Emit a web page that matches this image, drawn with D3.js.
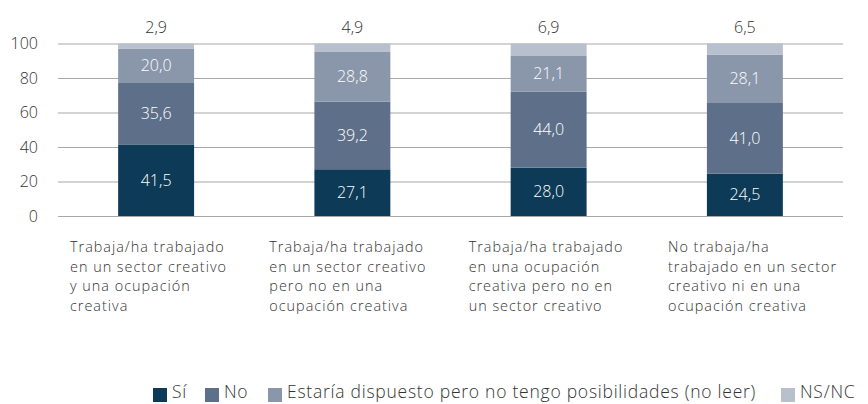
<!DOCTYPE html>
<html>
<head>
<meta charset="utf-8">
<script src="https://cdn.jsdelivr.net/npm/d3@7"></script>
<style>
  body { margin: 0; background: #fff; }
  svg text { font-family: "Open Sans", Roboto, sans-serif; font-weight: 300; }
</style>
</head>
<body>
<div id="chart"></div>
<script>
// data
var categories = [
  ["Trabaja/ha trabajado", "en un sector creativo", "y una ocupación", "creativa"],
  ["Trabaja/ha trabajado", "en un sector creativo", "pero no en una", "ocupación creativa"],
  ["Trabaja/ha trabajado", "en una ocupación", "creativa pero no en", "un sector creativo"],
  ["No trabaja/ha", "trabajado en un sector", "creativo ni en una", "ocupación creativa"]
];
var seriesNames = ["Sí", "No", "Estaría dispuesto pero no tengo posibilidades (no leer)", "NS/NC"];
var si      = [41.5, 27.1, 28.0, 24.5];
var no      = [35.6, 39.2, 44.0, 41.0];
var estaria = [20.0, 28.8, 21.1, 28.1];
var nsnc    = [2.9, 4.9, 6.9, 6.5];
var yTicks  = [0, 20, 40, 60, 80, 100];
var colors  = ["#0d3a56", "#5e7089", "#8a96aa", "#b8bfcd"];

var width = 868, height = 404;
var plotLeft = 58, plotRight = 843, plotTop = 43.5, plotBottom = 216;

var svg = d3.select("#chart")
  .append("svg")
    .attr("width", width)
    .attr("height", height);

var keys = categories.map((c, i) => "c" + i);
var table = keys.map((k, i) => ({key: k, Si: si[i], No: no[i], Est: estaria[i], NS: nsnc[i]}));

var x = d3.scaleBand()
  .domain(keys)
  .range([plotLeft, plotRight])
  .paddingInner(0.613)
  .paddingOuter(0.3065);

var y = d3.scaleLinear()
  .domain([0, 100])
  .range([plotBottom, plotTop]);

// grid + y axis
svg.append("g")
  .attr("transform", `translate(${plotLeft},0)`)
  .call(d3.axisLeft(y).tickValues(yTicks).tickSize(-(plotRight - plotLeft)).tickPadding(20))
  .call(g => g.select(".domain").remove())
  .call(g => g.selectAll(".tick line").attr("stroke", "#a8a8a8").attr("stroke-width", 1.2))
  .call(g => g.selectAll(".tick text")
      .attr("font-size", 16)
      .attr("fill", "#333")
      .style("font-family", "'Open Sans', sans-serif")
      .style("font-weight", 300));

// stacked bars
var stack = d3.stack().keys(["Si", "No", "Est", "NS"]);
var layers = stack(table);

svg.append("g").selectAll("g")
  .data(layers)
  .join("g")
    .attr("fill", (d, i) => colors[i])
  .selectAll("rect")
  .data(d => d)
  .join("rect")
    .attr("x", d => x(d.data.key))
    .attr("y", d => y(d[1]))
    .attr("width", x.bandwidth())
    .attr("height", d => y(d[0]) - y(d[1]));

// value labels inside the first three segments
var fmt = v => d3.format(".1f")(v).replace(".", ",");
layers.slice(0, 3).forEach(function(layer) {
  svg.append("g").selectAll("text")
    .data(layer)
    .join("text")
      .attr("x", d => x(d.data.key) + x.bandwidth() / 2)
      .attr("y", d => y((d[0] + d[1]) / 2))
      .attr("dy", "0.35em")
      .attr("text-anchor", "middle")
      .attr("font-size", 16)
      .attr("fill", "#fff")
      .text(d => fmt(d[1] - d[0]));
});

// NS/NC labels above bars
svg.append("g").selectAll("text")
  .data(table)
  .join("text")
    .attr("x", d => x(d.key) + x.bandwidth() / 2)
    .attr("y", 27)
    .attr("dy", "0.35em")
    .attr("text-anchor", "middle")
    .attr("font-size", 16)
    .attr("fill", "#333")
    .text(d => fmt(d.NS));

// category labels
var xLabel = d3.scalePoint().domain(keys).range([70, 668]);
svg.append("g").selectAll("text")
  .data(categories)
  .join("text")
    .attr("x", (d, i) => xLabel(keys[i]))
    .attr("y", 252)
    .attr("font-size", 14.4)
    .attr("letter-spacing", 1)
    .attr("fill", "#333")
  .selectAll("tspan")
  .data(d => d)
  .join("tspan")
    .attr("x", function() { return this.parentNode.getAttribute("x"); })
    .attr("dy", (d, i) => i === 0 ? 0 : 19.6)
    .text(d => d);

// legend
var legendX = [153, 205, 268, 781];
var legend = svg.append("g").selectAll("g")
  .data(seriesNames)
  .join("g")
    .attr("transform", (d, i) => `translate(${legendX[i]},388)`);
legend.append("rect")
  .attr("width", 14)
  .attr("height", 14)
  .attr("fill", (d, i) => colors[i]);
legend.append("text")
  .attr("x", 19)
  .attr("y", 4)
  .attr("dy", "0.35em")
  .attr("font-size", 17.5)
  .attr("letter-spacing", 0.75)
  .attr("fill", "#333")
  .text(d => d);
</script>
</body>
</html>
